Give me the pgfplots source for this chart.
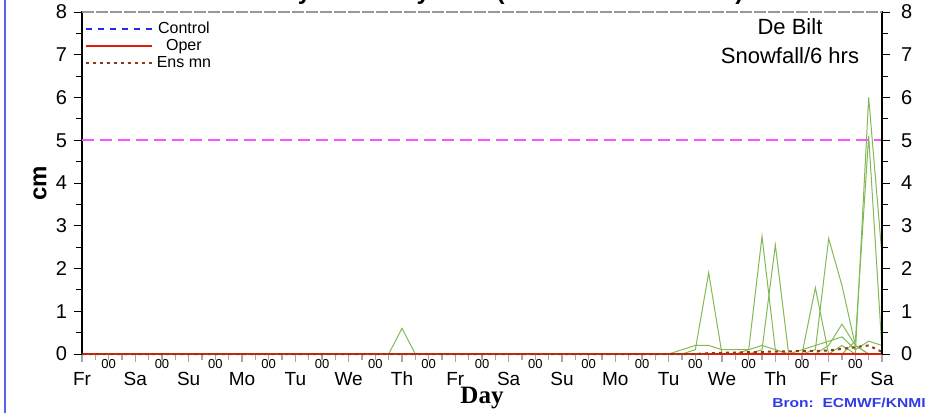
\documentclass[border=0pt]{standalone}
\usepackage{fontspec}
\setmainfont{Liberation Sans}
\newfontfamily\seriffont{Liberation Serif}
\usepackage{pgfplots}
\pgfplotsset{compat=1.18}
\definecolor{ensgreen}{RGB}{130,185,85}
\definecolor{threshmag}{RGB}{255,80,255}
\definecolor{ctrlblue}{RGB}{40,40,230}
\definecolor{operred}{RGB}{220,30,10}
\definecolor{ensbrown}{RGB}{140,60,20}
\definecolor{bronblue}{RGB}{50,60,230}
\begin{document}
\begin{tikzpicture}
\path[use as bounding box] (0,0) rectangle (467.5pt,206.5pt);
\draw[bronblue!80, line width=1pt] (2.5pt,0) -- (2.5pt,206.5pt);
\node[anchor=base, font=\bfseries\fontsize{12}{12}\selectfont] at (238pt,206.5pt) {Saturday 6 January 2007 (start time 04 12 UTC)};
\begin{axis}[
  at={(41pt,29.5pt)}, anchor=south west, scale only axis,
  width=400pt, height=171pt,
  xmin=0, xmax=360, ymin=0, ymax=8,
  /pgf/number format/assume math mode=true,
  axis line style={black, line width=1pt},
  xtick={0,24,...,360},
  xticklabels={Fr,Sa,Su,Mo,Tu,We,Th,Fr,Sa,Su,Mo,Tu,We,Th,Fr,Sa},
  minor x tick num=3,
  ytick={0,1,...,8}, minor y tick num=1,
  ytick pos=left,
  xtick pos=bottom,
  tick align=outside,
  major tick length=4pt, minor tick length=3pt,
  x tick style={gray!70, line width=0.7pt},
  y tick style={black, line width=0.5pt},
  xticklabel style={font=\fontsize{9.5}{10}\selectfont, yshift=-1.5pt},
  yticklabel style={font=\fontsize{10}{10}\selectfont},
  extra x ticks={12,36,...,348},
  extra x tick labels={00,00,00,00,00,00,00,00,00,00,00,00,00,00,00},
  extra x tick style={major tick length=0pt, xticklabel style={font=\fontsize{6.5}{7}\selectfont, yshift=2.5pt}},
  ylabel={\bfseries cm}, ylabel style={font=\fontsize{12}{12}\selectfont, at={(axis description cs:-0.0525,0.5)}, anchor=center},
  xlabel={\seriffont\bfseries Day}, xlabel style={font=\fontsize{12.5}{12.5}\selectfont, at={(axis description cs:0.5,-0.129)}, anchor=center},
  legend style={at={(rel axis cs:0.003,0.985)}, anchor=north west, draw=none, fill=none,
     font=\fontsize{8}{8}\selectfont, row sep=-2.5pt, inner sep=0pt},
  legend cell align=center,
  legend image code/.code={\draw[#1] (0pt,0pt) -- (25.5pt,0pt); \path (0pt,0pt) -- (33pt,0pt);},
  clip=false,
]
% ensemble members
\addplot[ensgreen, line width=0.5pt, forget plot] coordinates {(132,0) (138,0) (144,0.6) (150,0) (156,0)};
\addplot[ensgreen, line width=0.5pt, forget plot] coordinates {(264,0) (270,0) (276,0.1) (282,1.9) (288,0) (294,0)};
\addplot[ensgreen, line width=0.5pt, forget plot] coordinates {(288,0) (294,0) (300,0.1) (306,2.75) (312,0.1) (318,0)};
\addplot[ensgreen, line width=0.5pt, forget plot] coordinates {(294,0) (300,0) (306,0.1) (312,2.55) (318,0) (324,0)};
\addplot[ensgreen, line width=0.5pt, forget plot] coordinates {(312,0) (318,0) (324,0) (330,1.55) (336,0) (342,0.2) (348,0)};
\addplot[ensgreen, line width=0.5pt, forget plot] coordinates {(318,0) (324,0) (330,0.1) (336,2.7) (342,1.6) (348,0.2) (354,0)};
\addplot[ensgreen, line width=0.5pt, forget plot] coordinates {(324,0) (330,0) (336,0.2) (342,0.7) (348,0.2) (354,0)};
\addplot[ensgreen, line width=0.5pt, forget plot] coordinates {(342,0) (348,0) (354,6.0) (360,2.3)};
\addplot[ensgreen, line width=0.5pt, forget plot] coordinates {(342,0) (348,0.3) (354,5.1) (360,0.1)};
\addplot[ensgreen, line width=0.5pt, forget plot] coordinates {(258,0) (264,0) (270,0.1) (276,0.2) (282,0.2) (288,0.1) (294,0.1) (300,0.1) (306,0.2) (312,0.1) (318,0) (324,0.1) (330,0.2) (336,0.3) (342,0.4) (348,0.1) (354,0.3) (360,0.2)};
% threshold
\addplot[threshmag, line width=1.2pt, dash pattern=on 6pt off 3pt, forget plot] coordinates {(0,5) (360,5)};
% control, oper, ens mean
\addplot[ctrlblue, line width=1pt, dash pattern=on 3pt off 3pt] coordinates {(0,0) (360,0)};
\addlegendentry{Control}
\addplot[operred, line width=0.8pt] coordinates {(0,0) (360,0)};
\addlegendentry{Oper}
\addplot[ensbrown, line width=1pt, dash pattern=on 1.5pt off 2pt] coordinates {(0,0) (276,0) (282,0.02) (306,0.05) (336,0.08) (354,0.2) (360,0.05)};
\addlegendentry{Ens mn}
\node[font=\fontsize{11}{11}\selectfont, align=center] at (rel axis cs:0.885,0.915) {De Bilt\\[3.5pt]Snowfall/6 hrs};
\end{axis}
\begin{axis}[
  at={(41pt,29.5pt)}, anchor=south west, scale only axis,
  width=400pt, height=171pt,
  xmin=0, xmax=360, ymin=0, ymax=8,
  /pgf/number format/assume math mode=true,
  axis x line=none,
  axis y line*=right,
  axis line style={black, line width=1pt},
  ytick={0,1,...,8}, minor y tick num=1,
  tick align=outside,
  major tick length=4pt, minor tick length=3pt,
  y tick style={black, line width=0.5pt},
  yticklabel style={font=\fontsize{10}{10}\selectfont, xshift=2pt},
]
\addplot[draw=none, forget plot] coordinates {(0,0) (360,8)};
\end{axis}
\draw[white, line width=1.4pt] (41.6pt,200.5pt) -- (440.4pt,200.5pt);
\draw[gray!80, line width=0.6pt, dash pattern=on 6pt off 1pt] (41pt,200.5pt) -- (441pt,200.5pt);
\node[font=\bfseries\fontsize{6.5}{6.5}\selectfont, text=bronblue, xscale=1.2] at (424.5pt,5pt) {Bron:\ \ ECMWF/KNMI};
\end{tikzpicture}
\end{document}
